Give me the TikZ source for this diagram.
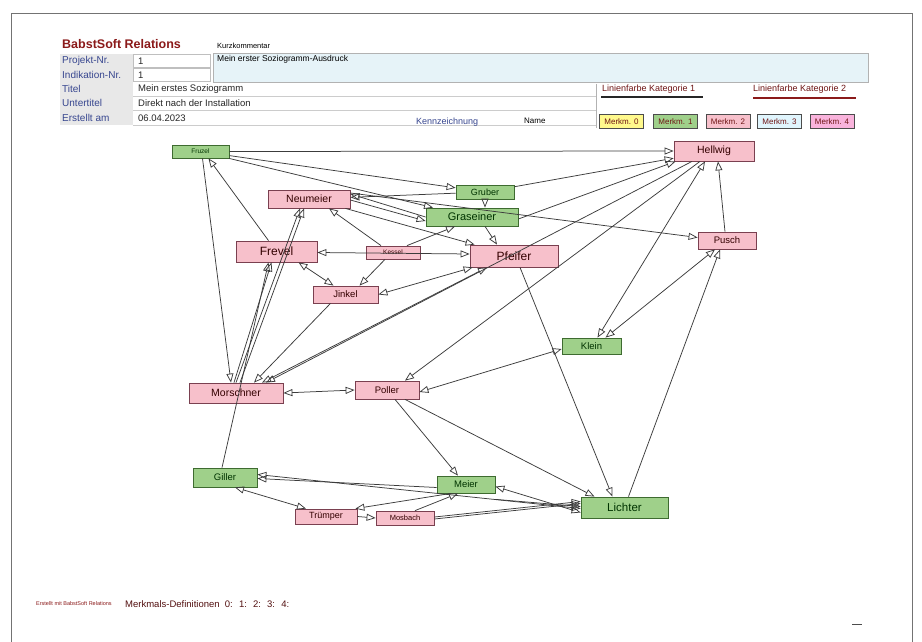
\documentclass[tikz,border=0pt]{standalone}
\usepackage{fontspec}
\setmainfont{Liberation Sans}
\usetikzlibrary{arrows.meta}
\definecolor{pinkf}{HTML}{F7C0CB}
\definecolor{pinkd}{HTML}{7A4050}
\definecolor{greenf}{HTML}{9FD08A}
\definecolor{greend}{HTML}{3E6B30}
\definecolor{navy}{HTML}{37468F}
\definecolor{maroon}{HTML}{8B1A1A}
\definecolor{edgec}{HTML}{3C3C3C}
\definecolor{lblue}{HTML}{E6F3F8}
\tikzset{
  pn/.style={draw=pinkd, fill=pinkf, line width=0.8pt, inner sep=0pt, anchor=center, text=black!80!red},
  gn/.style={draw=greend, fill=greenf, line width=0.8pt, inner sep=0pt, anchor=center, text=black!80!green},
  ed/.style={draw=edgec, line width=0.75pt, -{Triangle[open,length=9pt,width=7pt]}},
  bd/.style={draw=edgec, line width=0.75pt, {Triangle[open,length=9pt,width=7pt]}-{Triangle[open,length=9pt,width=7pt]}},
  lab/.style={anchor=west, inner sep=0pt, text=navy, font=\fontsize{10}{11}\selectfont},
  val/.style={anchor=west, inner sep=0pt, text=black!85, font=\fontsize{9.5}{10}\selectfont},
  mk/.style={draw=black!70, line width=0.9pt, inner sep=0pt, minimum width=44pt, minimum height=14pt, font=\fontsize{8}{8}\selectfont, text=maroon!80!black},
}
\begin{document}
\begin{tikzpicture}[x=1pt,y=-1pt]
\useasboundingbox (0,0) rectangle (922,642);
\fill[white] (0,0) rectangle (922,642);
% page frame
\draw[black!55, line width=1pt] (11,642) -- (11,14) -- (912,14) -- (912,642);
% header
\node[anchor=west, inner sep=0pt, text=maroon, font=\bfseries\fontsize{12.5}{13}\selectfont] (ttl) at (62,44) {BabstSoft Relations};
\node[anchor=west, inner sep=0pt, font=\fontsize{7.5}{8}\selectfont] (kk) at (217,46) {Kurzkommentar};
\fill[black!9] (60,54) rectangle (133,125);
\draw[black!25, fill=white] (133,54) rectangle (210,67);
\draw[black!25, fill=white] (133,68) rectangle (210,81);
\draw[black!20] (133,96) -- (596,96);
\draw[black!20] (133,110) -- (596,110);
\draw[black!20] (133,125) -- (596,125);
\draw[black!30] (596,84) -- (596,128);
\draw[black!30, fill=lblue] (213,53) rectangle (868,82);
\node[anchor=west, inner sep=0pt, font=\fontsize{8.5}{9}\selectfont] (kom) at (217,59) {Mein erster Soziogramm-Ausdruck};
\node[lab] (l1) at (62,60.5) {Projekt-Nr.};
\node[lab] (l2) at (62,74.5) {Indikation-Nr.};
\node[lab] (l3) at (62,89) {Titel};
\node[lab] (l4) at (62,103) {Untertitel};
\node[lab] (l5) at (62,118) {Erstellt am};
\node[val] (v1) at (138,61) {1};
\node[val] (v2) at (138,75) {1};
\node[val] (v3) at (138,89.5) {Mein erstes Soziogramm};
\node[val] (v4) at (138,103.5) {Direkt nach der Installation};
\node[val] (v5) at (138,118) {06.04.2023};
\node[anchor=west, inner sep=0pt, text=navy, font=\fontsize{9}{9}\selectfont] (kz) at (416,122) {Kennzeichnung};
\node[anchor=west, inner sep=0pt, font=\fontsize{8}{8}\selectfont] (nm) at (524,121) {Name};
\node[anchor=west, inner sep=0pt, text=maroon!80!black, font=\fontsize{9}{9}\selectfont] (k1) at (602,89) {Linienfarbe Kategorie 1};
\node[anchor=west, inner sep=0pt, text=maroon!80!black, font=\fontsize{9}{9}\selectfont] (k2) at (753,89) {Linienfarbe Kategorie 2};
\draw[black!85, line width=2pt] (601,97.5) -- (703,97.5);
\draw[maroon, line width=2pt] (753,98.5) -- (856,98.5);
\node[mk, fill=yellow!45] (m0) at (621.5,121.5) {Merkm. 0};
\node[mk, fill=greenf] (m1) at (675.5,121.5) {Merkm. 1};
\node[mk, fill=pinkf] (m2) at (728,121.5) {Merkm. 2};
\node[mk, fill=cyan!12] (m3) at (779.5,121.5) {Merkm. 3};
\node[mk, fill=magenta!30] (m4) at (832,121.5) {Merkm. 4};
% footer
\node[anchor=west, inner sep=0pt, text=maroon, font=\fontsize{5.5}{6}\selectfont] (f1) at (36,604) {Erstellt mit BabstSoft Relations};
\node[anchor=west, inner sep=0pt, text=maroon!60!black, font=\fontsize{9.5}{10}\selectfont] (f2) at (125,604) {Merkmals-Definitionen~ 0:~ 1:~ 2:~ 3:~ 4:};
\draw[black!70, line width=1pt] (852,624) -- (862,624);
% nodes
\node[gn, minimum width=57pt, minimum height=13pt, font=\fontsize{6.5}{7}\selectfont] (fruzel) at (200.5,151.5) {Fruzel};
\node[pn, minimum width=80pt, minimum height=20pt, font=\fontsize{10.5}{11}\selectfont] (hellwig) at (714,151) {Hellwig};
\node[gn, minimum width=58pt, minimum height=14pt, font=\fontsize{9}{9}\selectfont] (gruber) at (485,192) {Gruber};
\node[pn, minimum width=82pt, minimum height=18pt, font=\fontsize{10.5}{11}\selectfont] (neumeier) at (309,199) {Neumeier};
\node[gn, minimum width=92pt, minimum height=18pt, font=\fontsize{11}{11}\selectfont] (graseiner) at (472,217) {Graseiner};
\node[pn, minimum width=58pt, minimum height=17pt, font=\fontsize{9.5}{10}\selectfont] (pusch) at (727,240.5) {Pusch};
\node[pn, minimum width=81pt, minimum height=21pt, font=\fontsize{12}{12}\selectfont] (frevel) at (276.5,251.5) {Frevel};
\node[pn, minimum width=54pt, minimum height=13pt, font=\fontsize{6.5}{7}\selectfont] (kessel) at (393,252.5) {Kessel};
\node[pn, minimum width=88pt, minimum height=22pt, font=\fontsize{12}{12}\selectfont] (pfeifer) at (514,256) {Pfeifer};
\node[pn, minimum width=65pt, minimum height=17pt, font=\fontsize{9.5}{10}\selectfont] (jinkel) at (345.5,294.5) {Jinkel};
\node[gn, minimum width=59pt, minimum height=16pt, font=\fontsize{9.5}{10}\selectfont] (klein) at (591.5,346) {Klein};
\node[pn, minimum width=94pt, minimum height=20pt, font=\fontsize{10.5}{11}\selectfont] (morschner) at (236,393) {Morschner};
\node[pn, minimum width=64pt, minimum height=18pt, font=\fontsize{9.5}{10}\selectfont] (poller) at (387,390) {Poller};
\node[gn, minimum width=64pt, minimum height=19pt, font=\fontsize{9.5}{10}\selectfont] (giller) at (225,477.5) {Giller};
\node[gn, minimum width=58pt, minimum height=17pt, font=\fontsize{9.5}{10}\selectfont] (meier) at (466,484.5) {Meier};
\node[gn, minimum width=87pt, minimum height=21pt, font=\fontsize{11.5}{12}\selectfont] (lichter) at (624.5,507.5) {Lichter};
\node[pn, minimum width=62pt, minimum height=15pt, font=\fontsize{9}{9}\selectfont] (truemper) at (326,516.5) {Trümper};
\node[pn, minimum width=58pt, minimum height=14pt, font=\fontsize{7.5}{8}\selectfont] (mosbach) at (405,518) {Mosbach};
% edges
\draw[ed] (fruzel.east) -- (hellwig.west);
\draw[ed] (fruzel) -- (gruber);
\draw[ed] (fruzel) -- (graseiner);
\draw[ed] ([xshift=2pt]fruzel.south) -- ([xshift=-5pt]morschner.north);
\draw[ed] ([xshift=-8pt]frevel.north) -- ([xshift=8pt]fruzel.south);
\draw[ed] (gruber) -- (neumeier);
\draw[ed] (gruber) -- (hellwig);
\draw[ed] (gruber.south) -- (gruber.south |- graseiner.north);
\draw[ed] ([yshift=-1pt]neumeier.east) -- ([yshift=-4pt]graseiner.west);
\draw[ed] (graseiner.west) -- ([yshift=5pt]neumeier.east);
\draw[ed] ([yshift=6pt]neumeier.east) -- ([yshift=3pt]pusch.west);
\draw[ed] ([xshift=-5pt]neumeier.south east) -- ([xshift=5pt]pfeifer.north west);
\draw[ed] ([xshift=13pt]graseiner.south) -- ([xshift=-17pt]pfeifer.north);
\draw[ed] ([yshift=-2pt]graseiner.east) -- ([xshift=2pt]hellwig.south west);
\draw[ed] ([xshift=-12pt]kessel.north) -- ([xshift=20pt]neumeier.south);
\draw[ed] ([xshift=14pt]kessel.north) -- ([xshift=-17pt]graseiner.south);
\draw[ed] ([xshift=-8pt]kessel.south) -- ([xshift=14pt]jinkel.north);
\draw[bd] ([yshift=-1pt]frevel.east) -- ([yshift=2pt]pfeifer.west);
\draw[bd] ([xshift=22pt]frevel.south) -- ([xshift=-12pt]jinkel.north);
\draw[bd] (jinkel.east) -- ([xshift=3pt]pfeifer.south west);
\draw[ed] ([xshift=0pt]morschner.north) -- ([xshift=-9pt]neumeier.south);
\draw[ed] ([xshift=4pt]morschner.north) -- ([xshift=-5pt]neumeier.south);
\draw[ed] ([xshift=-2pt]morschner.north) -- ([xshift=-5pt]frevel.south);
\draw[ed] ([xshift=-3pt]giller.north) -- ([xshift=-8pt]frevel.south);
\draw[ed] ([xshift=-15pt]jinkel.south) -- ([xshift=18pt]morschner.north);
\draw[bd] ([xshift=-27pt]pfeifer.south) -- ([xshift=26pt]morschner.north);
\draw[ed] ([xshift=-22pt]hellwig.south) -- ([xshift=30pt]morschner.north);
\draw[bd] (morschner.east) -- (poller.west);
\draw[bd] ([yshift=-2pt]poller.east) -- ([yshift=-3pt]klein.west);
\draw[ed] ([xshift=-14pt]hellwig.south) -- ([xshift=18pt]poller.north);
\draw[bd] ([xshift=-9pt]hellwig.south) -- ([xshift=6pt]klein.north);
\draw[ed] ([xshift=-2pt]pusch.north) -- ([xshift=4pt]hellwig.south);
\draw[bd] ([xshift=-12pt]pusch.south) -- ([xshift=14pt]klein.north);
\draw[ed] ([xshift=4pt]lichter.north) -- ([xshift=-7pt]pusch.south);
\draw[ed] ([xshift=6pt]pfeifer.south) -- ([xshift=-12pt]lichter.north);
\draw[ed] ([xshift=8pt]poller.south) -- ([xshift=-8pt]meier.north);
\draw[ed] ([xshift=18pt]poller.south) -- ([xshift=-30pt]lichter.north);
\draw[ed] ([yshift=-3pt]meier.west) -- ([yshift=-1pt]giller.east);
\draw[bd] ([yshift=-1pt]lichter.west) -- ([yshift=3pt]giller.east);
\draw[bd] ([xshift=10pt]giller.south) -- ([xshift=-20pt]truemper.north);
\draw[ed] ([xshift=-15pt]meier.south) -- ([xshift=-2pt]truemper.north east);
\draw[ed] ([xshift=10pt]mosbach.north) -- ([xshift=-8pt]meier.south);
\draw[ed] (truemper.east) -- (mosbach.west);
\draw[ed] ([yshift=-1pt]mosbach.east) -- ([yshift=4pt]lichter.west);
\draw[ed] ([yshift=1pt]mosbach.east) -- ([yshift=6pt]lichter.west);
\draw[bd] ([yshift=-2pt]meier.east) -- ([yshift=-5pt]lichter.west);
\draw[ed] ([yshift=-6pt]meier.south east) -- ([yshift=1pt]lichter.west);
\end{tikzpicture}
\end{document}
